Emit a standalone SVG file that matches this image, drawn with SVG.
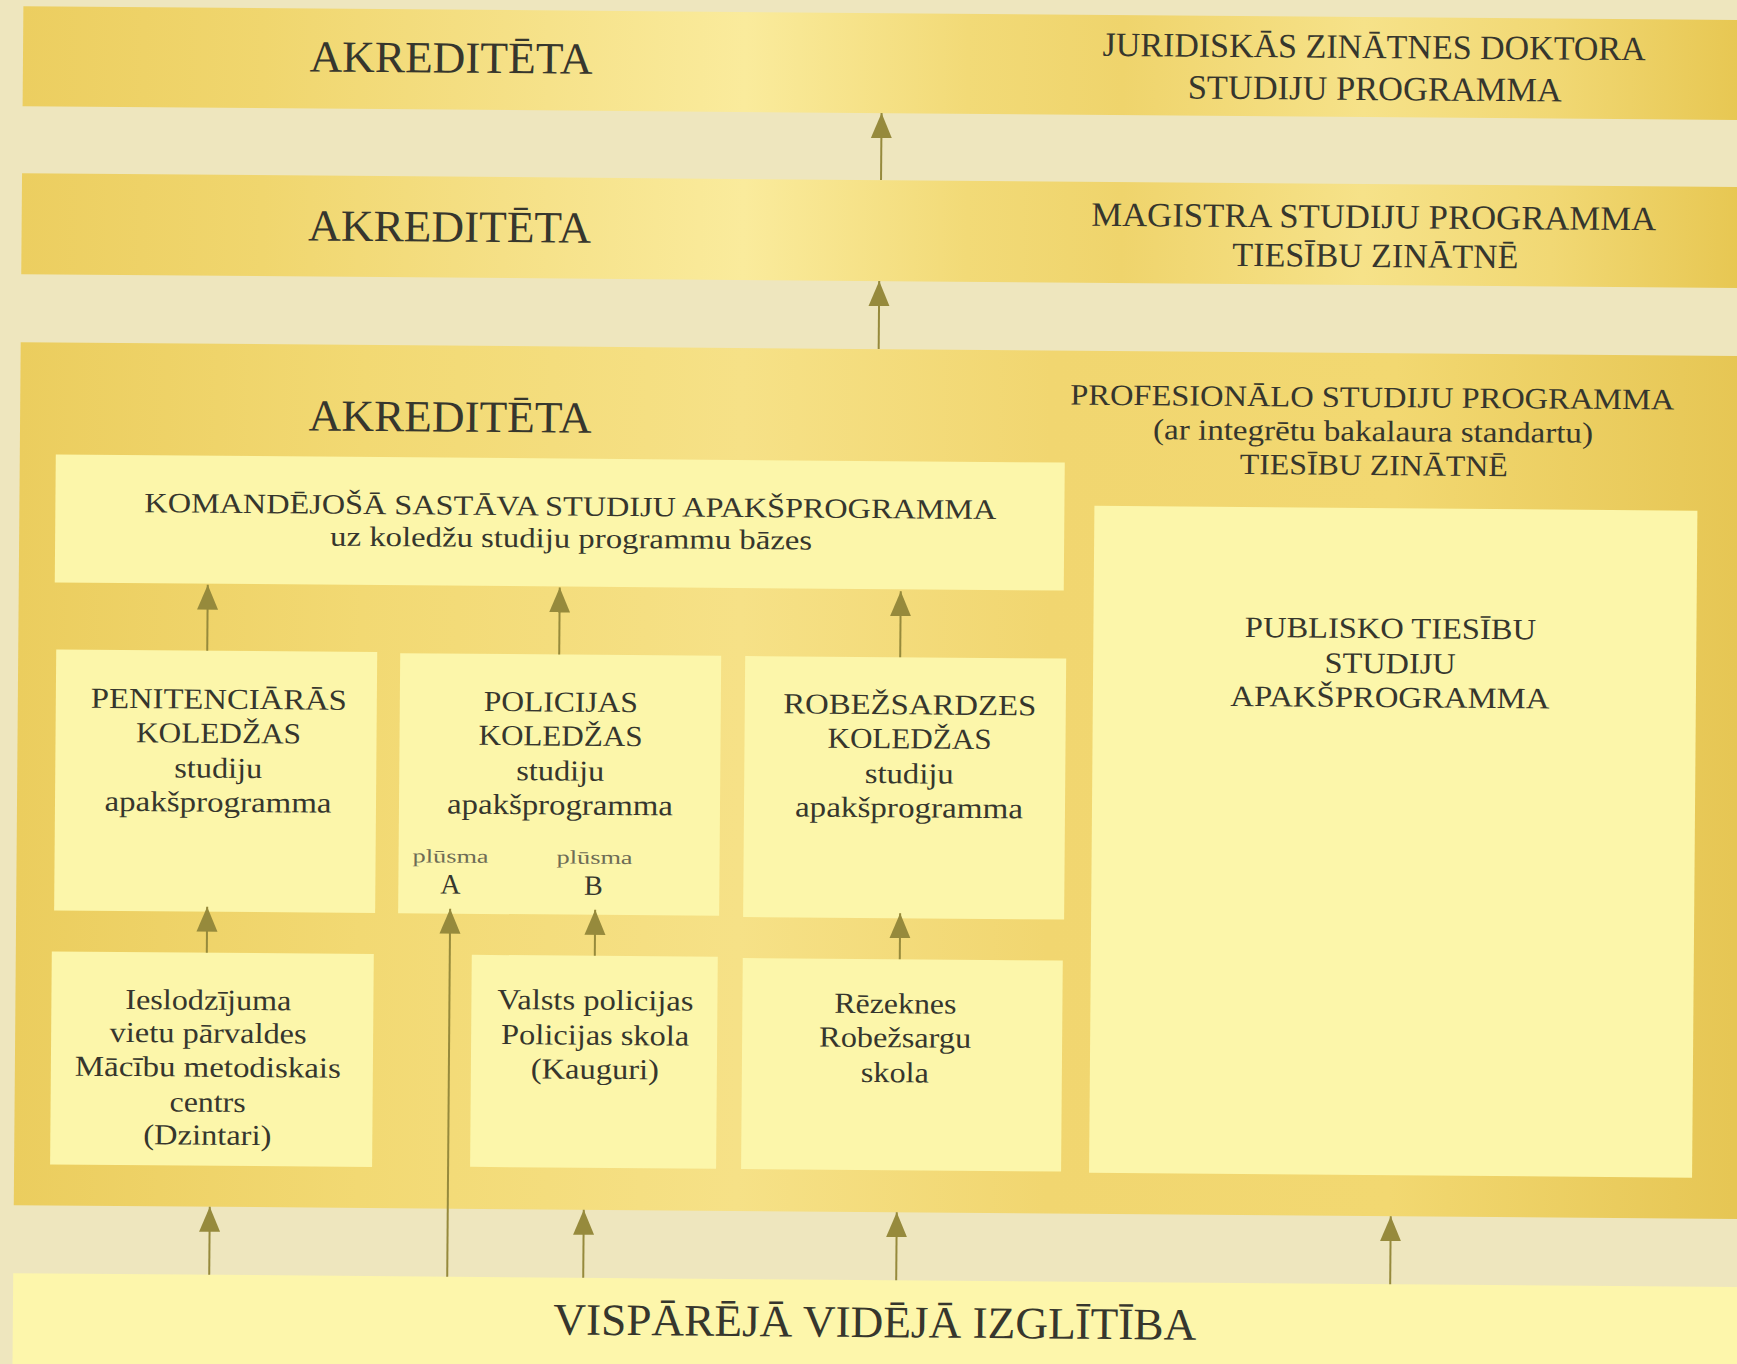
<svg xmlns="http://www.w3.org/2000/svg" width="1737" height="1364" viewBox="0 0 1737 1364">
<defs>
<linearGradient id="gBand" gradientUnits="userSpaceOnUse" x1="18" y1="0" x2="1737" y2="0">
<stop offset="0" stop-color="#ecce60"/>
<stop offset="0.14" stop-color="#f0d66e"/>
<stop offset="0.28" stop-color="#f5e086"/>
<stop offset="0.42" stop-color="#faeb9c"/>
<stop offset="0.55" stop-color="#f2da77"/>
<stop offset="0.64" stop-color="#efd46c"/>
<stop offset="0.78" stop-color="#f6e289"/>
<stop offset="0.89" stop-color="#f1d874"/>
<stop offset="1" stop-color="#e7c752"/>
</linearGradient>
<linearGradient id="gBig" gradientUnits="userSpaceOnUse" x1="18" y1="0" x2="1737" y2="0">
<stop offset="0" stop-color="#ebcd5e"/>
<stop offset="0.2" stop-color="#f2d973"/>
<stop offset="0.42" stop-color="#f6e187"/>
<stop offset="0.6" stop-color="#f1d670"/>
<stop offset="0.8" stop-color="#f2d871"/>
<stop offset="1" stop-color="#e6c654"/>
</linearGradient>
<marker id="ah" markerUnits="userSpaceOnUse" markerWidth="26" markerHeight="24" viewBox="0 -12 26 24" refX="25" refY="0" orient="auto">
<path d="M0,-10.5 L25,0 L0,10.5 Z" fill="#968a3c"/>
</marker>
<style>
.band{fill:url(#gBand)}
.big{fill:url(#gBig)}
.pale{fill:#fcf6aa}
.t{font-family:"Liberation Serif","Times New Roman",serif;fill:#36362d;text-anchor:middle}
.ak{font-size:44.5px}
.h{font-size:34px}
.m{font-size:29.5px}
.k{font-size:28px}
.b{font-size:29px}
.sm{font-size:19px;fill:#6e6c55}
.ab{font-size:28px}
.v{font-size:45px}
.c line{stroke:#968a3c;stroke-width:2;fill:none;marker-end:url(#ah)}
</style>
</defs>
<rect x="0" y="0" width="1737" height="1364" fill="#eee6be"/>
<g transform="rotate(0.46 868 682)">
<g id="doktora">
<rect class="band" x="18" y="13" width="1760" height="100"/>
<text class="t ak" x="446" y="76" textLength="283" lengthAdjust="spacingAndGlyphs">AKREDITĒTA</text>
<text class="t h" x="1369" y="54" textLength="543" lengthAdjust="spacingAndGlyphs">JURIDISKĀS ZINĀTNES DOKTORA</text>
<text class="t h" x="1370" y="96" textLength="374" lengthAdjust="spacingAndGlyphs">STUDIJU PROGRAMMA</text>
</g>
<g id="magistra">
<rect class="band" x="18" y="180" width="1760" height="101"/>
<text class="t ak" x="446" y="245" textLength="283" lengthAdjust="spacingAndGlyphs">AKREDITĒTA</text>
<text class="t h" x="1370" y="224" textLength="565" lengthAdjust="spacingAndGlyphs">MAGISTRA STUDIJU PROGRAMMA</text>
<text class="t h" x="1372" y="263" textLength="286" lengthAdjust="spacingAndGlyphs">TIESĪBU ZINĀTNĒ</text>
</g>
<g id="profesionalo">
<rect class="big" x="18" y="349" width="1760" height="863"/>
<text class="t ak" x="448" y="435" textLength="283" lengthAdjust="spacingAndGlyphs">AKREDITĒTA</text>
<text class="t m" x="1370" y="403" textLength="604" lengthAdjust="spacingAndGlyphs">PROFESIONĀLO STUDIJU PROGRAMMA</text>
<text class="t m" x="1371" y="437" textLength="440" lengthAdjust="spacingAndGlyphs">(ar integrētu bakalaura standartu)</text>
<text class="t m" x="1372" y="471" textLength="268" lengthAdjust="spacingAndGlyphs">TIESĪBU ZINĀTNĒ</text>
</g>
<g id="komandejosa">
<rect class="pale" x="54" y="461" width="1009" height="128"/>
<text class="t k" x="569" y="518" textLength="852" lengthAdjust="spacingAndGlyphs">KOMANDĒJOŠĀ SASTĀVA STUDIJU APAKŠPROGRAMMA</text>
<text class="t k" x="570" y="550" textLength="482" lengthAdjust="spacingAndGlyphs">uz koledžu studiju programmu bāzes</text>
</g>
<g id="penitenciaras">
<rect class="pale" x="56" y="656" width="321" height="261"/>
<text class="t b" x="219" y="714" textLength="256" lengthAdjust="spacingAndGlyphs">PENITENCIĀRĀS</text>
<text class="t b" x="219" y="748" textLength="165" lengthAdjust="spacingAndGlyphs">KOLEDŽAS</text>
<text class="t b" x="219" y="783" textLength="88" lengthAdjust="spacingAndGlyphs">studiju</text>
<text class="t b" x="219" y="817" textLength="227" lengthAdjust="spacingAndGlyphs">apakšprogramma</text>
</g>
<g id="policijas">
<rect class="pale" x="400" y="657" width="321" height="260"/>
<text class="t b" x="561" y="714" textLength="154" lengthAdjust="spacingAndGlyphs">POLICIJAS</text>
<text class="t b" x="561" y="748" textLength="164" lengthAdjust="spacingAndGlyphs">KOLEDŽAS</text>
<text class="t b" x="561" y="783" textLength="88" lengthAdjust="spacingAndGlyphs">studiju</text>
<text class="t b" x="561" y="817" textLength="226" lengthAdjust="spacingAndGlyphs">apakšprogramma</text>
<text class="t sm" x="452" y="866" textLength="76" lengthAdjust="spacingAndGlyphs">plūsma</text>
<text class="t ab" x="452" y="897">A</text>
<text class="t sm" x="596" y="866" textLength="76" lengthAdjust="spacingAndGlyphs">plūsma</text>
<text class="t ab" x="595" y="897">B</text>
</g>
<g id="robezsardzes">
<rect class="pale" x="745" y="657" width="321" height="261"/>
<text class="t b" x="910" y="714" textLength="253" lengthAdjust="spacingAndGlyphs">ROBEŽSARDZES</text>
<text class="t b" x="910" y="748" textLength="164" lengthAdjust="spacingAndGlyphs">KOLEDŽAS</text>
<text class="t b" x="910" y="783" textLength="89" lengthAdjust="spacingAndGlyphs">studiju</text>
<text class="t b" x="910" y="817" textLength="228" lengthAdjust="spacingAndGlyphs">apakšprogramma</text>
</g>
<g id="ieslodzijuma">
<rect class="pale" x="54" y="958" width="322" height="213"/>
<text class="t b" x="211" y="1015" textLength="166" lengthAdjust="spacingAndGlyphs">Ieslodzījuma</text>
<text class="t b" x="211" y="1048" textLength="197" lengthAdjust="spacingAndGlyphs">vietu pārvaldes</text>
<text class="t b" x="211" y="1082" textLength="266" lengthAdjust="spacingAndGlyphs">Mācību metodiskais</text>
<text class="t b" x="211" y="1117" textLength="76" lengthAdjust="spacingAndGlyphs">centrs</text>
<text class="t b" x="211" y="1150" textLength="128" lengthAdjust="spacingAndGlyphs">(Dzintari)</text>
</g>
<g id="valsts">
<rect class="pale" x="474" y="958" width="246" height="212"/>
<text class="t b" x="598" y="1012" textLength="196" lengthAdjust="spacingAndGlyphs">Valsts policijas</text>
<text class="t b" x="598" y="1047" textLength="188" lengthAdjust="spacingAndGlyphs">Policijas skola</text>
<text class="t b" x="598" y="1081" textLength="128" lengthAdjust="spacingAndGlyphs">(Kauguri)</text>
</g>
<g id="rezeknes">
<rect class="pale" x="745" y="959" width="320" height="211"/>
<text class="t b" x="898" y="1013" textLength="122" lengthAdjust="spacingAndGlyphs">Rēzeknes</text>
<text class="t b" x="898" y="1047" textLength="152" lengthAdjust="spacingAndGlyphs">Robežsargu</text>
<text class="t b" x="898" y="1082" textLength="68" lengthAdjust="spacingAndGlyphs">skola</text>
</g>
<g id="publisko">
<rect class="pale" x="1093" y="504" width="603" height="667"/>
<text class="t m" x="1390" y="634" textLength="291" lengthAdjust="spacingAndGlyphs">PUBLISKO TIESĪBU</text>
<text class="t m" x="1390" y="669" textLength="131" lengthAdjust="spacingAndGlyphs">STUDIJU</text>
<text class="t m" x="1390" y="703" textLength="319" lengthAdjust="spacingAndGlyphs">APAKŠPROGRAMMA</text>
</g>
<g id="videja">
<rect x="18" y="1280" width="1760" height="100" fill="#fdf6ab"/>
<text class="t v" x="880" y="1337" textLength="643" lengthAdjust="spacingAndGlyphs">VISPĀRĒJĀ VIDĒJĀ IZGLĪTĪBA</text>
</g>
<g id="connectors" class="c">
<line x1="877" y1="180" x2="877" y2="113"/>
<line x1="876" y1="349" x2="876" y2="281"/>
<line x1="207" y1="656" x2="207" y2="590"/>
<line x1="559" y1="657" x2="559" y2="590"/>
<line x1="900" y1="657" x2="900" y2="591"/>
<line x1="209" y1="958" x2="209" y2="912"/>
<line x1="597" y1="958" x2="597" y2="912"/>
<line x1="902" y1="959" x2="902" y2="913"/>
<line x1="452" y1="1280" x2="452" y2="912"/>
<line x1="214" y1="1280" x2="214" y2="1212"/>
<line x1="588" y1="1280" x2="588" y2="1212"/>
<line x1="901" y1="1280" x2="901" y2="1212"/>
<line x1="1395" y1="1280" x2="1395" y2="1212"/>
</g>
</g>
</svg>
